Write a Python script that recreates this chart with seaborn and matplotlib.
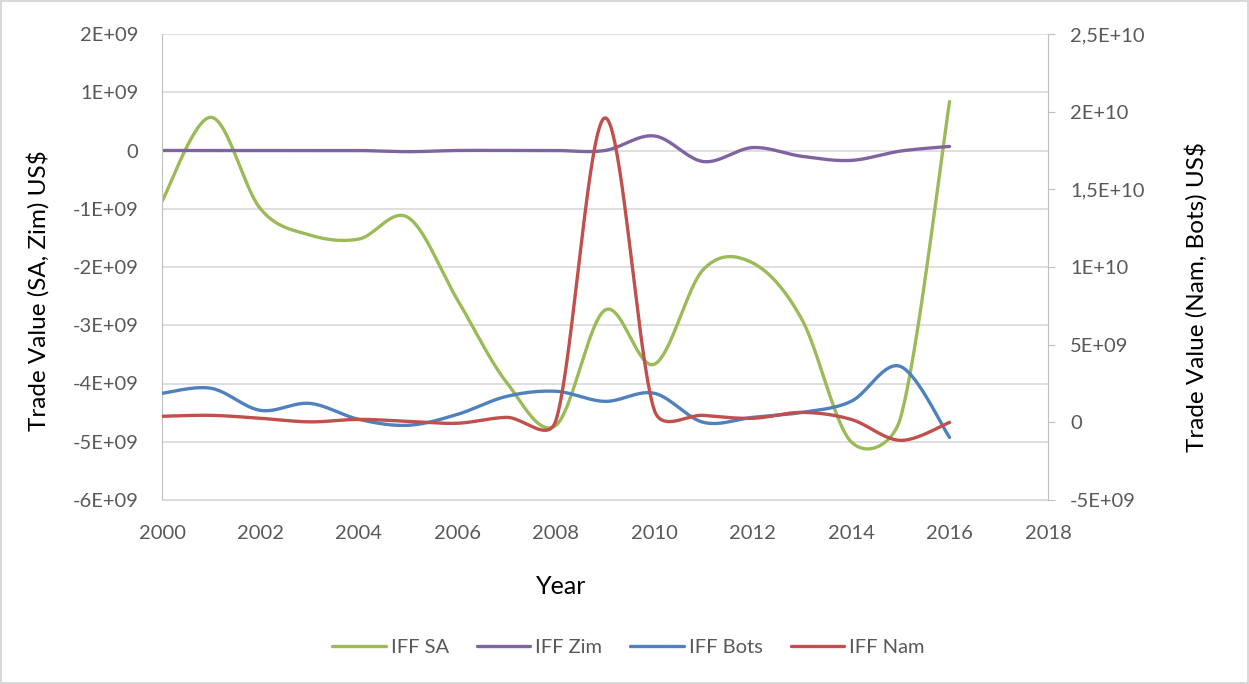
import numpy as np
import pandas as pd
import matplotlib
matplotlib.use("Agg")
import matplotlib.pyplot as plt
import seaborn as sns

years = list(range(2000, 2017))

# left axis (US$)
iff_sa = [-0.87e9, 0.57e9, -1.0e9, -1.45e9, -1.52e9, -1.15e9, -2.56e9, -3.98e9,
          -4.72e9, -2.74e9, -3.67e9, -2.04e9, -1.93e9, -2.9e9, -5.0e9, -4.6e9, 0.84e9]
iff_zim = [0.0, 0.0, 0.0, 0.0, 0.0, -0.02e9, 0.0, 0.0,
           0.0, 0.0, 0.25e9, -0.19e9, 0.05e9, -0.1e9, -0.17e9, -0.01e9, 0.07e9]

# right axis (US$)
iff_bots = [1.87e9, 2.19e9, 0.77e9, 1.22e9, 0.19e9, -0.19e9, 0.51e9, 1.67e9,
            2.0e9, 1.35e9, 1.87e9, 0.0, 0.32e9, 0.64e9, 1.35e9, 3.6e9, -0.97e9]
iff_nam = [0.39e9, 0.45e9, 0.26e9, 0.03e9, 0.19e9, 0.06e9, -0.06e9, 0.32e9,
           0.1e9, 19.6e9, 0.8e9, 0.45e9, 0.26e9, 0.64e9, 0.19e9, -1.16e9, 0.0]

left_ticks = [2e9, 1e9, 0, -1e9, -2e9, -3e9, -4e9, -5e9, -6e9]
left_labels = ["2E+09", "1E+09", "0", "-1E+09", "-2E+09", "-3E+09", "-4E+09", "-5E+09", "-6E+09"]
right_ticks = [2.5e10, 2e10, 1.5e10, 1e10, 5e9, 0, -5e9]
right_labels = ["2,5E+10", "2E+10", "1,5E+10", "1E+10", "5E+09", "0", "-5E+09"]
x_ticks = list(range(2000, 2019, 2))


def smooth(x, y, sx, sy, n=40):
    # excel-like smoothed line: bezier, control offsets = 1/6 of neighbour chord,
    # capped at half the segment length (worked out in pixel space)
    P = np.column_stack([np.asarray(x, float) * sx, np.asarray(y, float) * sy])
    m = len(P)
    ext = np.vstack([P[0], P, P[-1]])
    pts = []
    t = np.linspace(0, 1, n, endpoint=False)[:, None]
    for i in range(m - 1):
        p0, p1, p2, p3 = ext[i], ext[i + 1], ext[i + 2], ext[i + 3]
        half = np.hypot(*(p2 - p1)) / 2
        o1 = (p2 - p0) / 6
        o2 = (p3 - p1) / 6
        for o in (o1, o2):
            L = np.hypot(*o)
            if L > half:
                o *= half / L
        c1, c2 = p1 + o1, p2 - o2
        pts.append((1 - t) ** 3 * p1 + 3 * (1 - t) ** 2 * t * c1
                   + 3 * (1 - t) * t ** 2 * c2 + t ** 3 * p2)
    pts.append(P[-1:])
    pts = np.vstack(pts)
    return pd.DataFrame({"x": pts[:, 0] / sx, "y": pts[:, 1] / sy})


sns.set_style("white")
plt.rcParams["font.family"] = ["Lato", "DejaVu Sans"]

fig = plt.figure(figsize=(12.49, 6.84), dpi=100)
fig.patch.set_edgecolor("#D9D9D9")
fig.patch.set_linewidth(1.5)
ax = fig.add_axes([162 / 1249, 1 - 500 / 684, (1048 - 162) / 1249, (500 - 34) / 684])
ax2 = ax.twinx()

green, purple, blue, red = "#9BBB59", "#8064A2", "#4F81BD", "#C0504D"
px_year = 886 / 18
px_left = 466 / 8e9
px_right = 466 / 3e10

kw = dict(lw=2.4, sort=False, estimator=None)
sns.lineplot(data=smooth(years, iff_sa, px_year, px_left), x="x", y="y", ax=ax,
             color=green, label="IFF SA", **kw)
sns.lineplot(data=smooth(years, iff_zim, px_year, px_left), x="x", y="y", ax=ax,
             color=purple, label="IFF Zim", **kw)
sns.lineplot(data=smooth(years, iff_bots, px_year, px_right), x="x", y="y", ax=ax2,
             color=blue, label="IFF Bots", **kw)
sns.lineplot(data=smooth(years, iff_nam, px_year, px_right), x="x", y="y", ax=ax2,
             color=red, label="IFF Nam", **kw)

ax.set_xlim(2000, 2018)
ax.set_ylim(-6e9, 2e9)
ax2.set_ylim(-5e9, 2.5e10)
ax.set_xticks(x_ticks)
ax.set_xticklabels([str(v) for v in x_ticks])
ax.set_yticks(left_ticks)
ax.set_yticklabels(left_labels)
ax2.set_yticks(right_ticks)
ax2.set_yticklabels(right_labels)

ax.grid(axis="y", color="#D9D9D9", lw=1.2)
ax.set_axisbelow(True)
for a in (ax, ax2):
    for s in a.spines.values():
        s.set_visible(False)
    a.tick_params(colors="#595959", labelsize=14.5, length=0)
ax.spines["left"].set_visible(True)
ax.spines["left"].set_color("#BFBFBF")
ax.spines["bottom"].set_visible(True)
ax.spines["bottom"].set_color("#D9D9D9")
ax2.spines["right"].set_visible(True)
ax2.spines["right"].set_color("#BFBFBF")
ax2.tick_params(axis="y", length=5, color="#BFBFBF", pad=11)
ax.tick_params(axis="x", pad=18)
ax.tick_params(axis="y", pad=17)

ax.set_xlabel("Year", fontsize=18, color="black")
ax.set_ylabel("Trade Value (SA, Zim) US$", fontsize=17.5, color="black")
ax2.set_ylabel("Trade Value (Nam, Bots) US$", fontsize=17.5, color="black")
ax.xaxis.set_label_coords((561 - 162) / 886, (500 - 575) / 466)
ax.yaxis.set_label_coords((50 - 162) / 886, 0.45)
ax2.yaxis.set_label_coords((1185 - 162) / 886, 0.435)

h1, l1 = ax.get_legend_handles_labels()
h2, l2 = ax2.get_legend_handles_labels()
ax.get_legend().remove()
ax2.get_legend().remove()
fig.legend(h1 + h2, l1 + l2, loc="center", bbox_to_anchor=(628.5 / 1249, 1 - 647 / 684), ncol=4,
           frameon=False, fontsize=14.5, handlelength=2.65, columnspacing=1.4, handletextpad=0.25,
           labelcolor="#595959")

fig.savefig("out.png", dpi=100, edgecolor=fig.get_edgecolor())
